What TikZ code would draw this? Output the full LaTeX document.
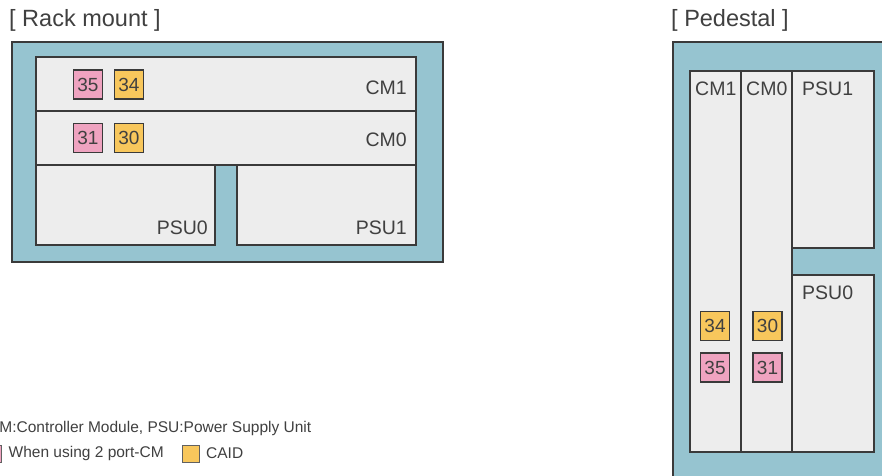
\documentclass[tikz,border=0pt]{standalone}
\usepackage{fontspec}
\setmainfont{Liberation Sans}
\definecolor{blueframe}{HTML}{96C4D0}
\definecolor{panel}{HTML}{EDEDED}
\definecolor{pinkid}{HTML}{EFA3C0}
\definecolor{caid}{HTML}{F8C75C}
\definecolor{txt}{HTML}{404040}
\definecolor{edge}{HTML}{3A3A3A}
\begin{document}
\begin{tikzpicture}[x=1pt,y=-1pt,
  outerbox/.style={draw=edge,line width=1.3pt,fill=blueframe},
  panelbox/.style={draw=edge,line width=1.2pt,fill=panel},
  titletext/.style={inner sep=0pt,text=txt,font=\fontsize{23.5}{26}\selectfont},
  lbl/.style={inner sep=0pt,text=txt,font=\fontsize{19.5}{22}\selectfont},
  legendtext/.style={inner sep=0pt,text=txt,font=\fontsize{15.5}{18}\selectfont},
  idbox/.style={draw=edge,line width=1.1pt,minimum size=29pt,inner sep=0pt,text=txt,font=\fontsize{19}{22}\selectfont},
  pinkbox/.style={idbox,fill=pinkid},
  caidbox/.style={idbox,fill=caid},
  legbox/.style={draw=edge!80,line width=1pt,minimum size=17pt,inner sep=0pt}]
\useasboundingbox (0,0) rectangle (882,475);
\clip (0,0) rectangle (882,475);
\fill[white] (0,0) rectangle (882,475);

% ---------- Rack mount ----------
\node[titletext,anchor=west] (rtitle) at (9,20) {[ Rack mount ]};
\draw[outerbox] (12,42) rectangle (443,262);
\draw[panelbox] (36,57) rectangle (416,111);
\draw[panelbox] (36,111) rectangle (416,165);
\draw[panelbox] (36,165) rectangle (215,245);
\draw[panelbox] (237,165) rectangle (416,245);
\draw[edge,line width=1.2pt] (36,165) -- (416,165);

\node[lbl,anchor=east] (rcm1) at (407,88) {CM1};
\node[lbl,anchor=east] (rcm0) at (407,140) {CM0};
\node[lbl,anchor=east] (rpsu0) at (208,228) {PSU0};
\node[lbl,anchor=east] (rpsu1) at (407,228) {PSU1};

\node[pinkbox] (r35) at (88,84.5) {35};
\node[caidbox] (r34) at (129,84.5) {34};
\node[pinkbox] (r31) at (88,138) {31};
\node[caidbox] (r30) at (129,138) {30};

% ---------- Pedestal ----------
\node[titletext,anchor=west] (ptitle) at (671,20) {[ Pedestal ]};
\draw[outerbox] (673,42) rectangle (900,500);
\draw[panelbox] (690,71) rectangle (741,452);
\draw[panelbox] (741,71) rectangle (792,452);
\draw[panelbox] (792,71) rectangle (874,248);
\draw[panelbox] (792,275) rectangle (874,452);

\node[lbl,anchor=west] (pcm1) at (695,89) {CM1};
\node[lbl,anchor=west] (pcm0) at (746,89) {CM0};
\node[lbl,anchor=west] (ppsu1) at (802,89) {PSU1};
\node[lbl,anchor=west] (ppsu0) at (802,293) {PSU0};

\node[caidbox] (p34) at (715,326) {34};
\node[pinkbox] (p35) at (715,367.5) {35};
\node[caidbox] (p30) at (767.5,326) {30};
\node[pinkbox] (p31) at (767.5,367.5) {31};

% ---------- Legend ----------
\node[legendtext,anchor=west] (leg1) at (-12,428) {CM:Controller Module, PSU:Power Supply Unit};
\node[legbox,fill=pinkid] (legpink) at (-7.5,453.5) {};
\node[legendtext,anchor=west] (leg2) at (8.5,453) {When using 2 port-CM};
\node[legbox,fill=caid] (legcaid) at (190.5,453.5) {};
\node[legendtext,anchor=west] (leg3) at (206,453) {CAID};
\end{tikzpicture}
\end{document}
